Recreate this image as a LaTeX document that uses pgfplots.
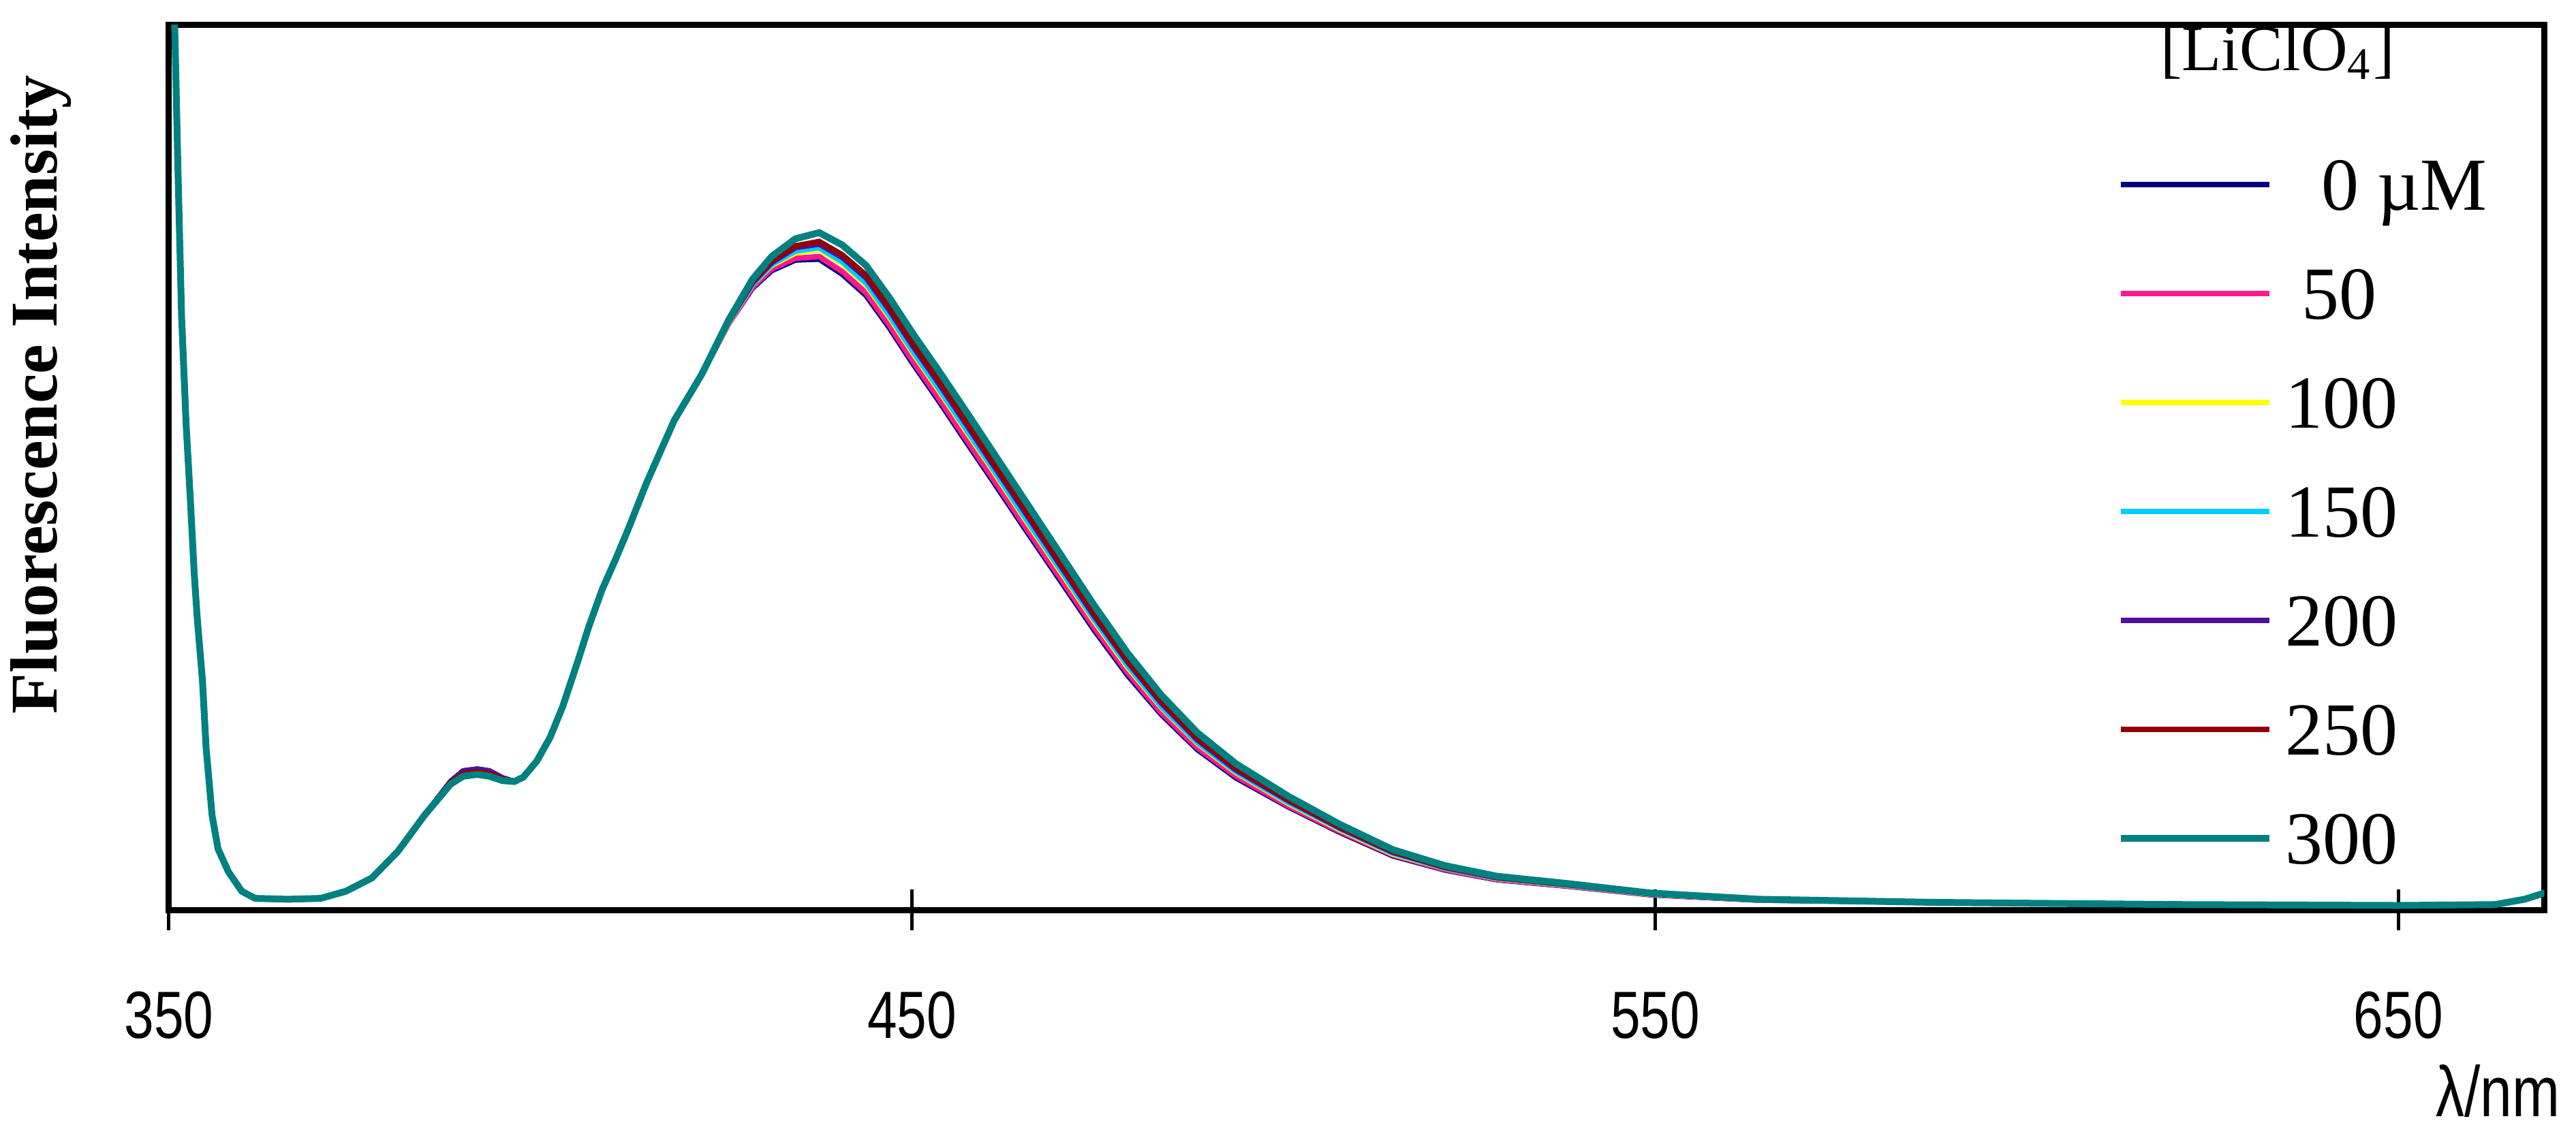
\documentclass[border=0pt]{standalone}
\usepackage{fontspec}
\setmainfont{Liberation Serif}
\newfontfamily\narrowsans[FakeStretch=0.8]{Liberation Sans}
\usepackage{pgfplots}
\usepackage{pgfplotstable}
\pgfplotsset{compat=1.18}

\definecolor{c0}{HTML}{000080}
\definecolor{c50}{HTML}{FF1A8C}
\definecolor{c100}{HTML}{FFFF00}
\definecolor{c150}{HTML}{00CCFF}
\definecolor{c200}{HTML}{5010A0}
\definecolor{c250}{HTML}{900000}
\definecolor{c300}{HTML}{008080}

% emission spectra, one column per [LiClO4] (uM)
\pgfplotstableread{
x     s0    s50   s100  s150  s200  s250  s300
350.0 118   118   118   118   118   118   118
350.4 108   108   108   108   108   108   108
350.8 99    99    99    99    99    99    99
351.2 84    84    84    84    84    84    84
351.7 67    67    67    67    67    67    67
352.3 55    55    55    55    55    55    55
352.9 46    46    46    46    46    46    46
353.4 38    38    38    38    38    38    38
353.8 33    33    33    33    33    33    33
354.5 26    26    26    26    26    26    26
355.0 18.3  18.3  18.3  18.3  18.3  18.3  18.3
355.8 10.7  10.7  10.7  10.7  10.7  10.7  10.7
356.6 6.9   6.9   6.9   6.9   6.9   6.9   6.9
358.0 4.3   4.3   4.3   4.3   4.3   4.3   4.3
359.8 2.1   2.1   2.1   2.1   2.1   2.1   2.1
361.6 1.3   1.3   1.3   1.3   1.3   1.3   1.3
366.0 1.2   1.2   1.2   1.2   1.2   1.2   1.2
370.4 1.3   1.3   1.3   1.3   1.3   1.3   1.3
373.8 2.1   2.1   2.1   2.1   2.1   2.1   2.1
377.3 3.6   3.6   3.6   3.6   3.6   3.6   3.6
380.8 6.6   6.6   6.6   6.6   6.6   6.6   6.6
384.4 10.7  10.7  10.7  10.7  10.7  10.7  10.7
387.9 14.5  14.3  14.2  14.2  14.5  14.4  14.2
389.6 15.7  15.3  15.1  15.1  15.7  15.4  15.1
391.5 15.9  15.5  15.3  15.3  15.9  15.6  15.3
393.1 15.7  15.3  15.1  15.1  15.7  15.4  15.1
394.9 14.9  14.7  14.6  14.6  14.9  14.8  14.6
396.5 14.5  14.5  14.5  14.5  14.5  14.5  14.5
397.7 15.0  15.0  15.0  15.0  15.0  15.0  15.0
399.5 16.8  16.8  16.8  16.8  16.8  16.8  16.8
401.3 19.5  19.5  19.5  19.5  19.5  19.5  19.5
403.0 23.0  23.0  23.0  23.0  23.0  23.0  23.0
405.1 28.3  28.3  28.3  28.3  28.3  28.3  28.3
406.5 32.0  32.0  32.0  32.0  32.0  32.0  32.0
408.3 36.2  36.2  36.2  36.2  36.2  36.2  36.2
410.1 39.6  39.6  39.6  39.6  39.6  39.6  39.6
411.8 43.0  43.0  43.0  43.0  43.0  43.0  43.0
414.3 48.3  48.3  48.3  48.3  48.3  48.3  48.3
418.0 55.3  55.3  55.3  55.3  55.3  55.3  55.3
421.7 60.5  60.5  60.5  60.5  60.5  60.5  60.5
425.3 66.2  66.2  66.3  66.4  66.4  66.5  66.6
428.5 70.2  70.3  70.6  70.6  70.8  70.9  71.2
431.1 72.2  72.4  72.8  72.9  73.1  73.3  73.8
434.3 73.4  73.6  74.2  74.4  74.8  75.0  75.8
437.5 73.5  73.8  74.6  74.8  75.2  75.5  76.5
440.6 71.8  72.1  73.0  73.2  73.7  74.0  75.1
443.8 69.4  69.7  70.6  70.8  71.4  71.7  72.8
446.9 65.8  66.1  67.0  67.2  67.8  68.1  69.2
450.1 61.7  62.0  62.9  63.1  63.7  64.0  65.1
453.5 57.6  57.9  58.8  59.0  59.6  59.9  61.0
457.5 52.6  52.9  53.8  54.0  54.6  54.9  56.0
460.5 48.9  49.2  50.1  50.3  50.8  51.1  52.2
465.3 42.9  43.2  44.0  44.2  44.8  45.1  46.1
467.5 40.2  40.5  41.3  41.5  42.0  42.3  43.3
474.5 31.6  31.9  32.6  32.8  33.2  33.5  34.4
479.0 26.5  26.8  27.4  27.6  28.0  28.2  29.0
483.5 22.1  22.3  22.9  23.0  23.4  23.6  24.3
488.4 18.1  18.3  18.8  18.9  19.2  19.4  20.0
493.6 14.9  15.1  15.5  15.6  15.8  16.0  16.5
500.7 11.6  11.7  12.0  12.1  12.3  12.4  12.8
507.7 8.7   8.8   9.0   9.1   9.2   9.3   9.6
514.7 6.1   6.2   6.3   6.4   6.5   6.6   6.8
521.7 4.5   4.55  4.7   4.7   4.8   4.8   5.0
528.7 3.4   3.44  3.54  3.57  3.63  3.67  3.8
537.9 2.7   2.73  2.8   2.83  2.87  2.9   3.0
549.4 1.7   1.72  1.77  1.78  1.82  1.84  1.9
564.0 1.1   1.11  1.14  1.14  1.16  1.17  1.2
587.4 0.85  0.85  0.85  0.85  0.85  0.85  0.85
620.6 0.6   0.6   0.6   0.6   0.6   0.6   0.6
650.0 0.5   0.5   0.5   0.5   0.5   0.5   0.5
663.0 0.6   0.6   0.6   0.6   0.6   0.6   0.6
667.0 1.2   1.2   1.2   1.2   1.2   1.2   1.2
670.0 2.0   2.0   2.0   2.0   2.0   2.0   2.0
}\spectra

\begin{document}
\begin{tikzpicture}
\begin{axis}[
    scale only axis,
    width=348.6pt, height=130pt,
    xmin=350, xmax=669.6, ymin=0, ymax=100,
    clip mode=individual,
    axis line style={line width=0.9pt},
    ytick=\empty,
    xtick={350,450,550,650},
    xtick pos=bottom,
    tick align=center,
    major tick length=6pt,
    xtick style={line width=0.5pt, black},
    /pgf/number format/assume math mode=true,
    xticklabel style={font=\narrowsans\fontsize{9.8}{10}\selectfont, anchor=base, inner sep=0pt, yshift=-15.8pt},
    xlabel={λ/nm},
    xlabel style={font=\narrowsans\fontsize{10.5}{11}\selectfont, at={(axis description cs:1.0072,-0.2338)}, anchor=base east, inner sep=0pt},
    ylabel={Fluorescence Intensity},
    ylabel style={font=\bfseries\fontsize{9.8}{10}\selectfont, at={(axis description cs:-0.0473,0.582)}, anchor=base, inner sep=0pt},
    legend style={draw=none, fill=none, inner sep=0pt, at={(rel axis cs:0.8199,0.850)}, anchor=north west,
        font=\fontsize{11}{12}\selectfont, row sep=8.5pt, column sep=1.8pt,
        nodes={inner sep=0pt, text height=7.5pt, text depth=0pt}},
    legend cell align=left,
    legend image code/.code={\draw[#1] (0pt,0pt) -- (21.8pt,0pt);},
]
\addplot[c0, line width=0.8pt] table[x=x, y=s0] {\spectra};
\addlegendentry{\hspace{5.3pt}0 µM}
\addplot[c50, line width=0.8pt] table[x=x, y=s50] {\spectra};
\addlegendentry{\hspace{2.4pt}50}
\addplot[c100, line width=0.8pt] table[x=x, y=s100] {\spectra};
\addlegendentry{100}
\addplot[c150, line width=0.8pt] table[x=x, y=s150] {\spectra};
\addlegendentry{150}
\addplot[c200, line width=0.8pt] table[x=x, y=s200] {\spectra};
\addlegendentry{200}
\addplot[c250, line width=0.8pt] table[x=x, y=s250] {\spectra};
\addlegendentry{250}
\addplot[c300, line width=1pt] table[x=x, y=s300] {\spectra};
\addlegendentry{300}
\node[anchor=base west, inner sep=0pt, font=\fontsize{9.5}{10}\selectfont] at (rel axis cs:0.838,0.948) {[LiClO\textsubscript{4}]};
\coordinate (O) at (rel axis cs:0,0);
\end{axis}
\pgfresetboundingbox
\path (O) ++(-24.8pt,-33.4pt) rectangle ++(378.1pt,167pt);
\end{tikzpicture}
\end{document}
